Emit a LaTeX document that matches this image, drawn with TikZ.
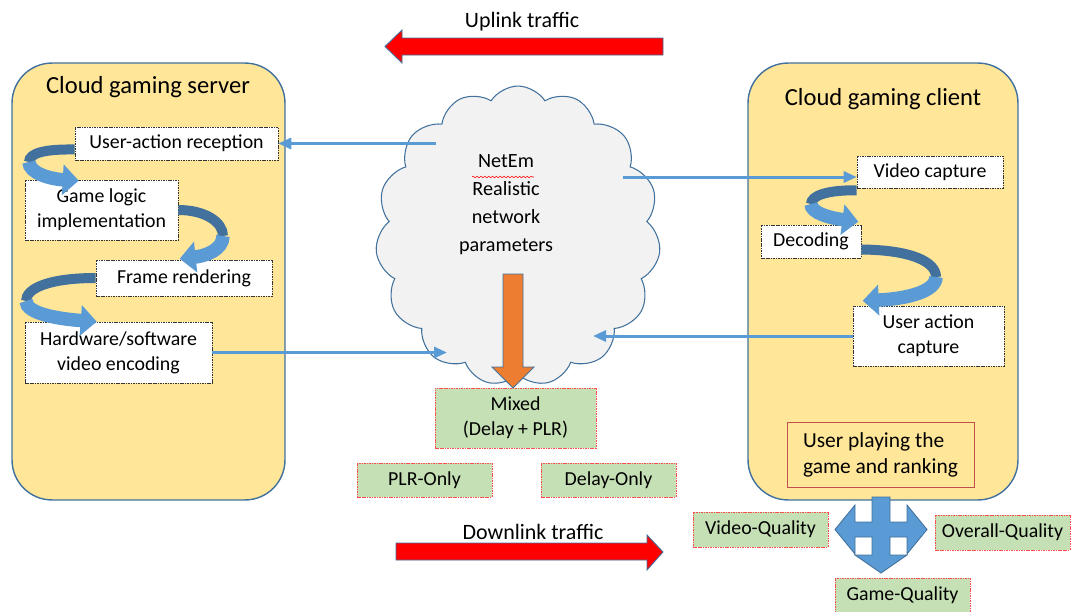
\documentclass[tikz,border=0pt]{standalone}
\usepackage{fontspec}
\setmainfont{Carlito}
\usetikzlibrary{arrows.meta,shapes.symbols,calc,decorations.pathmorphing}

\definecolor{boxgold}{HTML}{FFE699}
\definecolor{edgeblue}{HTML}{41719C}
\definecolor{arrowblue}{HTML}{5B9BD5}
\definecolor{cloudgrey}{HTML}{F2F2F2}
\definecolor{qualgreen}{HTML}{C5E0B4}
\definecolor{netorange}{HTML}{ED7D31}
\definecolor{playred}{HTML}{C0504D}

\newcommand{\bodyfont}{\fontsize{11.3}{14.2}\selectfont}
\newcommand{\cloudfont}{\fontsize{11.5}{15.9}\selectfont}
\newcommand{\headfont}{\fontsize{14}{17}\selectfont}

\tikzset{
  side/.style={draw=edgeblue, line width=0.8pt, fill=boxgold, rounded corners=0.8cm},
  stage/.style={draw=black!80, dash pattern=on 0.9pt off 0.5pt, line width=0.35pt, fill=white, align=center, inner sep=0pt, font=\bodyfont},
  netcase/.style={draw=red!70, dash pattern=on 0.9pt off 0.5pt, line width=0.35pt, fill=qualgreen, align=center, inner sep=0pt, font=\bodyfont},
  curlback/.style={edgeblue, line width=0.2cm},
  curlfront/.style={arrowblue, line width=0.27cm, -{Triangle[length=0.32cm,width=0.6cm]}},
  link/.style={arrowblue, line width=0.06cm, -{Triangle[length=0.26cm,width=0.22cm]}},
  bigarrow/.style={draw=edgeblue, line width=0.5pt},
}

\begin{document}
\begin{tikzpicture}[x=0.02cm, y=-0.02cm]
  \useasboundingbox (0,0) rectangle (1072,612);
  % server and client panels
  \node[side, minimum width=5.46cm, minimum height=8.74cm] (server) at (148.5,281.5) {};
  \node[side, minimum width=5.40cm, minimum height=8.74cm] (client) at (883,281.5) {};
  \node[font=\headfont] (srvtitle) at (148,87) {Cloud gaming server};
  \node[font=\headfont] (clititle) at (883,99) {Cloud gaming client};

  % network emulator
  \node[cloud, cloud puffs=15, cloud puff arc=115, cloud ignores aspect, draw=edgeblue, fill=cloudgrey,
        line width=0.6pt, minimum width=5.7cm, minimum height=6.0cm] (netcloud) at (518,236) {};
  \node[font=\cloudfont, align=center] (netem) at (506,205) {NetEm\\Realistic\\network\\parameters};
  \draw[red, line width=0.3pt, decorate, decoration={snake, amplitude=0.5pt, segment length=2.2pt}]
    (472,177) -- (534,177);

  % server stages
  \node[stage, minimum width=4.06cm, minimum height=0.66cm] (ua) at (176.5,143.5) {User-action reception};
  \node[stage, minimum width=3.06cm, minimum height=1.20cm] (glogic) at (101.5,210) {Game logic\\implementation};
  \node[stage, minimum width=3.52cm, minimum height=0.72cm] (frame) at (184,278) {Frame rendering};
  \node[stage, minimum width=3.74cm, minimum height=1.22cm] (hwenc) at (118.5,352.5) {Hardware/software\\video encoding};

  % client stages
  \node[stage, minimum width=2.92cm, minimum height=0.64cm] (vcap) at (930,172) {Video capture};
  \node[stage, minimum width=2.00cm, minimum height=0.66cm] (decod) at (811,241.5) {Decoding};
  \node[stage, minimum width=3.02cm, minimum height=1.20cm] (uacap) at (928.5,336) {User action\\capture};
  \node[draw=playred, line width=0.5pt, align=left, minimum width=3.74cm, minimum height=1.30cm,
        font=\fontsize{12.2}{14.7}\selectfont] (play) at (880.5,454.5) {User playing the\\game and ranking};

  % curled flow arrows
  \draw[curlback] ($(ua.west)+(0,6)$) .. controls (45,149) and (29,153) .. (29,162);
  \draw[curlfront] (29,162) .. controls (29,173) and (50,179) .. ($(glogic.north west)+(54,1)$);
  \draw[curlback] (glogic.east) .. controls (205,210) and (223,222) .. (223,236);
  \draw[curlfront] (223,236) .. controls (223,250) and (205,256) .. ($(frame.north west)+(84,-1)$);
  \draw[curlback] (frame.west) .. controls (50,278) and (26,288) .. (26,301);
  \draw[curlfront] (26,301) .. controls (26,314) and (60,319) .. ($(hwenc.north west)+(72,0)$);
  \draw[curlback] ($(vcap.south west)+(0,2)$) .. controls (826,190) and (811,196) .. (811,204);
  \draw[curlfront] (811,204) .. controls (811,213) and (830,218) .. ($(decod.north east)+(-3,-3)$);
  \draw[curlback] ($(decod.east)+(0,8)$) .. controls (912,250) and (936,262) .. (936,277);
  \draw[curlfront] (936,277) .. controls (936,292) and (905,299) .. ($(uacap.north west)+(10,-5)$);

  % traffic through the emulator
  \coordinate (upin) at (436,143.5);
  \coordinate (downout) at (623,177);
  \coordinate (downin) at (447,352.5);
  \coordinate (upout) at (593,336);
  \draw[link] (upin) -- (ua.east);
  \draw[link] (downout) -- (downout -| vcap.west);
  \draw[link] (hwenc.east) -- (downin);
  \draw[link] (uacap.west) -- (upout);

  % impairment scenarios
  \node[netcase, minimum width=3.22cm, minimum height=1.20cm] (mixed) at (515.5,418) {Mixed\\(Delay + PLR)};
  \node[netcase, minimum width=2.70cm, minimum height=0.68cm] (plr) at (424.5,480) {PLR-Only};
  \node[netcase, minimum width=2.70cm, minimum height=0.68cm] (delay) at (608.5,480) {Delay-Only};
  \fill[netorange, bigarrow] (503,274) -- (523,274) -- (523,367) -- (534,367) -- (513,388)
        -- (492,367) -- (503,367) -- cycle;

  % uplink / downlink
  \fill[red, bigarrow] (663,38) -- (402,38) -- (402,30) -- (385,46.5) -- (402,63) -- (402,55) -- (663,55) -- cycle;
  \node[font=\fontsize{12.5}{15}\selectfont] (uptext) at (522,22) {Uplink traffic};
  \fill[red, bigarrow] (396,543) -- (647,543) -- (647,535) -- (663,552) -- (647,570) -- (647,560) -- (396,560) -- cycle;
  \node[font=\fontsize{12.5}{15}\selectfont] (downtext) at (533,532) {Downlink traffic};

  % ratings
  \fill[arrowblue, bigarrow] (872,497) -- (890,497) -- (890,522) -- (907,522) -- (907,505) -- (927,529.5)
        -- (907,554) -- (907,537) -- (890,537) -- (890,555) -- (907,555) -- (881,573) -- (855,555)
        -- (872,555) -- (872,537) -- (855,537) -- (855,554) -- (835,529.5) -- (855,505) -- (855,522)
        -- (872,522) -- cycle;
  \node[netcase, minimum width=2.70cm, minimum height=0.70cm] (vq) at (760.5,529.5) {Video-Quality};
  \node[netcase, minimum width=2.70cm, minimum height=0.70cm] (oq) at (1002.5,532.5) {Overall-Quality};
  \node[netcase, minimum width=2.70cm, minimum height=0.68cm] (gq) at (902.5,595) {Game-Quality};
\end{tikzpicture}
\end{document}
